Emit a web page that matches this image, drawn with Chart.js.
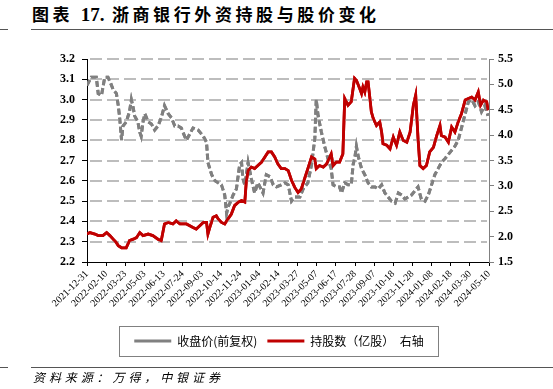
<!DOCTYPE html>
<html>
<head>
<meta charset="utf-8">
<script src="https://cdn.jsdelivr.net/npm/chart.js@4/dist/chart.umd.min.js"></script>
<style>
html,body{margin:0;padding:0;background:#fff;}
#wrap{position:relative;width:553px;height:389px;overflow:hidden;background:#fff;}
#c{position:absolute;left:0;top:0;}
.title{position:absolute;left:32px;top:3px;font-family:"Noto Sans CJK SC";font-weight:bold;font-size:17px;line-height:22px;letter-spacing:3.6px;white-space:nowrap;color:#000;}
.num{font-family:"Liberation Serif";font-weight:bold;font-size:19px;letter-spacing:0;}
.rule{position:absolute;height:1px;background:#555;}
.src{position:absolute;left:33px;top:369px;font-family:"Noto Sans CJK SC";font-style:italic;font-size:12px;line-height:16px;letter-spacing:3.9px;white-space:nowrap;color:#000;}
</style>
</head>
<body>
<div id="wrap">
  <div class="title">图表 <span class="num">17.</span> 浙商银行外资持股与股价变化</div>
  <div class="rule" style="left:0;width:8px;top:29px;"></div>
  <div class="rule" style="left:31px;width:522px;top:29px;"></div>
  <canvas id="c" width="553" height="389"></canvas>
  <div class="rule" style="left:0;width:8px;top:367px;"></div>
  <div class="rule" style="left:31px;width:522px;top:367px;"></div>
  <div class="src">资料来源：万得，中银证券</div>
</div>
<script>
// X-axis tick labels (every 41 calendar days from 2021-12-31)
const tickLabels = ['2021-12-31','2022-02-10','2022-03-23','2022-05-03','2022-06-13','2022-07-24','2022-09-03','2022-10-14','2022-11-24','2023-01-04','2023-02-14','2023-03-27','2023-05-07','2023-06-17','2023-07-28','2023-09-07','2023-10-18','2023-11-28','2024-01-08','2024-02-18','2024-03-30','2024-05-10'];
const tickStepDays = 41;

// 收盘价(前复权) — day offset from 2021-12-31, left axis
const priceDays = [0,9,20,24,31,38,45,49,56,63,67,70,74,77,84,91,95,99,102,109,113,116,120,124,131,138,145,152,159,166,174,181,188,195,202,209,213,220,227,238,249,256,259,267,274,281,288,295,299,302,306,313,320,327,331,334,338,345,352,359,366,377,384,392,399,406,416,424,431,438,445,456,463,473,481,488,491,495,502,509,516,523,527,534,541,545,552,559,566,570,574,577,581,588,595,602,609,617,624,631,638,645,652,660,667,674,681,688,695,702,709,716,724,731,738,745,752,759,767,774,781,788,795,802,810,817,824,831,838,845,852,859];
const priceValues = [3.07,3.11,3.11,3.03,3.02,3.11,3.11,3.09,3.05,3.03,2.97,2.91,2.80,2.87,2.89,2.94,3.00,2.96,2.92,2.89,2.84,2.82,2.89,2.93,2.89,2.88,2.85,2.87,2.91,2.97,2.93,2.91,2.87,2.87,2.86,2.82,2.80,2.83,2.86,2.85,2.82,2.79,2.69,2.63,2.60,2.59,2.58,2.53,2.44,2.47,2.49,2.53,2.56,2.68,2.69,2.61,2.58,2.69,2.61,2.54,2.59,2.54,2.63,2.62,2.58,2.57,2.58,2.59,2.58,2.50,2.52,2.52,2.56,2.59,2.68,2.81,3.00,2.92,2.84,2.77,2.71,2.66,2.58,2.57,2.57,2.54,2.59,2.58,2.58,2.68,2.72,2.77,2.72,2.66,2.63,2.59,2.57,2.57,2.56,2.58,2.54,2.52,2.50,2.49,2.54,2.53,2.51,2.52,2.53,2.55,2.57,2.51,2.50,2.53,2.58,2.63,2.66,2.69,2.71,2.73,2.75,2.77,2.80,2.86,2.93,2.99,3.00,2.97,2.99,2.94,2.97,2.92];

// 持股数（亿股）— day offset from 2021-12-31, right axis
const holdDays = [0,6,17,24,34,42,49,56,63,67,74,84,91,99,106,113,120,131,141,152,159,166,174,184,191,199,213,227,234,241,249,256,259,264,270,277,281,288,295,302,309,316,324,331,338,341,345,352,359,366,374,381,388,395,402,409,416,424,431,438,445,452,459,466,473,481,488,491,498,506,513,523,527,534,541,548,552,559,566,573,577,584,588,591,595,599,602,606,609,613,620,627,631,634,642,649,652,656,663,670,677,685,692,699,704,709,713,720,727,734,742,749,756,759,767,774,781,788,795,802,810,817,824,831,838,843,849,856,859];
const holdValues = [2.05,2.08,2.05,2.02,2.02,2.08,2.02,1.95,1.88,1.82,1.78,1.78,1.92,1.95,1.98,2.08,2.02,2.05,2.02,1.95,1.92,2.25,2.28,2.25,2.31,2.25,2.25,2.18,2.15,2.21,2.28,2.28,2.05,2.21,2.38,2.41,2.35,2.28,2.25,2.35,2.44,2.61,2.68,2.71,2.68,3.07,3.30,3.37,3.34,3.40,3.47,3.57,3.67,3.67,3.57,3.43,3.34,3.34,3.30,3.11,2.97,2.87,2.94,3.14,3.34,3.57,3.53,3.34,3.40,3.37,3.43,3.63,3.40,3.47,3.47,3.63,4.72,4.59,4.66,5.12,5.08,4.92,4.82,4.95,4.85,5.05,5.05,4.72,4.46,4.33,4.19,4.26,4.06,3.83,3.80,3.73,3.83,3.96,3.80,4.06,3.90,3.86,4.06,4.59,4.79,3.93,3.40,3.34,3.40,3.67,3.76,3.99,4.19,3.99,3.96,3.86,4.16,4.06,4.26,4.42,4.69,4.72,4.75,4.69,4.85,4.59,4.69,4.66,4.49];

const seriesNames = ['收盘价(前复权)', '持股数（亿股）  右轴'];

const toPoints = (days, vals) => days.map((d, i) => ({x: d, y: vals[i]}));

// Draws dashed horizontal grid lines at the left-axis ticks after everything else,
// then redraws the datasets so the lines sit on top of the grid.
const gridAndLegendBox = {
  id: 'gridAndLegendBox',
  afterDraw(chart) {
    const ys = chart.scales.y, ca = chart.chartArea, ctx = chart.ctx;
    ctx.save();
    ctx.fillStyle = '#bdbdbd';
    ys.ticks.forEach(t => {
      const py = Math.round(ys.getPixelForValue(t.value));
      if (!(py < ca.bottom - 2)) return;
      for (let x = ca.left + 3; x < ca.right - 2; x += 17) {
        const w = Math.min(12, ca.right - 2 - x);
        ctx.fillRect(x, py - 1, w, 2);
      }
    });
    ctx.restore();

    const metas = chart.getSortedVisibleDatasetMetas();
    ctx.save();
    ctx.beginPath();
    ctx.rect(ca.left, ca.top - 6, ca.right - ca.left, ca.bottom - ca.top + 12);
    ctx.clip();
    for (let i = metas.length - 1; i >= 0; --i) metas[i].controller.draw();
    ctx.restore();

    const lg = chart.legend;
    if (!lg || !lg.legendHitBoxes || !lg.legendHitBoxes.length) return;
    const hb = lg.legendHitBoxes;
    const first = hb[0], last = hb[hb.length - 1];
    const x1 = first.left - 15;
    const x2 = last.left + last.width + 15;
    const y1 = first.top - 9;
    const y2 = first.top + first.height + 9;
    ctx.save();
    ctx.strokeStyle = '#808080';
    ctx.lineWidth = 1;
    ctx.setLineDash([]);
    ctx.strokeRect(Math.round(x1) + 0.5, Math.round(y1) + 0.5, Math.round(x2 - x1), Math.round(y2 - y1));
    ctx.restore();
  }
};

new Chart(document.getElementById('c'), {
  type: 'line',
  data: {
    datasets: [
      {
        label: seriesNames[0],
        data: toPoints(priceDays, priceValues),
        yAxisID: 'y',
        borderColor: '#808080',
        backgroundColor: '#808080',
        borderWidth: 3,
        borderDash: [6, 3],
        pointRadius: 0,
        tension: 0,
        fill: false,
        order: 1
      },
      {
        label: seriesNames[1],
        data: toPoints(holdDays, holdValues),
        yAxisID: 'y1',
        borderColor: '#c00000',
        backgroundColor: '#c00000',
        borderWidth: 2.8,
        pointRadius: 0,
        tension: 0,
        fill: false,
        order: 0
      }
    ]
  },
  options: {
    responsive: false,
    animation: false,
    layout: { padding: { top: 59, left: 5, right: 0, bottom: 32 } },
    plugins: {
      tooltip: { enabled: false },
      legend: {
        position: 'bottom',
        labels: {
          usePointStyle: true,
          pointStyle: 'line',
          pointStyleWidth: 37,
          padding: 10,
          color: '#000',
          font: { family: '"Noto Sans CJK SC"', size: 12 },
          sort: (a, b) => a.datasetIndex - b.datasetIndex
        }
      }
    },
    scales: {
      x: {
        type: 'linear',
        min: 0,
        max: (tickLabels.length - 1) * tickStepDays,
        afterBuildTicks: s => { s.ticks = tickLabels.map((_, i) => ({ value: i * tickStepDays })); },
        afterFit: s => { s.height = 63; },
        ticks: {
          autoSkip: false,
          maxRotation: 45,
          minRotation: 45,
          padding: 2,
          color: '#000',
          font: { family: '"Liberation Serif"', size: 10 },
          callback: v => tickLabels[Math.round(v / tickStepDays)] || ''
        },
        grid: { drawOnChartArea: false, drawTicks: true, tickLength: 4, color: '#000' },
        border: { display: true, color: '#000', width: 1 }
      },
      y: {
        position: 'left',
        min: 2.2,
        max: 3.2,
        afterFit: s => { s.width = 82; },
        ticks: {
          stepSize: 0.1,
          padding: 7,
          color: '#000',
          font: { family: '"Liberation Serif"', size: 12, weight: 'bold' },
          callback: v => Number(v).toFixed(1)
        },
        grid: { drawOnChartArea: false, tickColor: '#000', tickLength: 5 },
        border: { display: true, color: '#000', width: 1 }
      },
      y1: {
        position: 'right',
        min: 1.5,
        max: 5.5,
        afterFit: s => { s.width = 64; },
        ticks: {
          stepSize: 0.5,
          padding: 4,
          color: '#000',
          font: { family: '"Liberation Serif"', size: 12, weight: 'bold' },
          callback: v => Number(v).toFixed(1)
        },
        grid: { drawOnChartArea: false, tickColor: '#808080', tickLength: 5 },
        border: { display: true, color: '#808080', width: 1 }
      }
    }
  },
  plugins: [gridAndLegendBox]
});
</script>
</body>
</html>
